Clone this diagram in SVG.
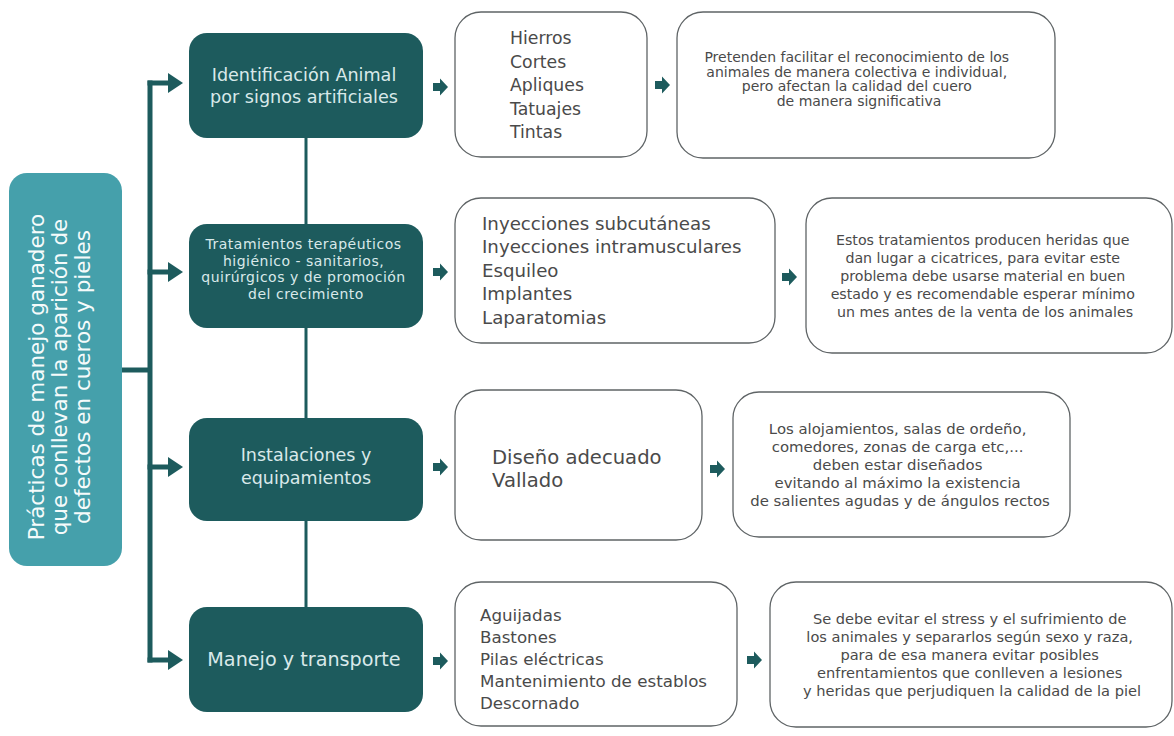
<svg xmlns="http://www.w3.org/2000/svg" width="1174" height="736" viewBox="0 0 1174 736">
  <defs>
    <style>
      .root { fill: #45a0ab; }
      .cat { fill: #1d5b5d; }
      .item { fill: #ffffff; stroke: #5f6466; stroke-width: 1.3; }
      .t { font-family: "DejaVu Sans", "Liberation Sans", sans-serif; }
      .tRoot { fill: #f5fbfb; font-size: 21.5px; text-anchor: middle; }
      .tCat { fill: #d9e9ea; text-anchor: middle; }
      .tList { fill: #4a4a4a; }
      .tNote { fill: #4a4a4a; text-anchor: middle; }
      .wire { stroke: #1d5b5d; fill: none; }
      .tip { fill: #1d5b5d; }
    </style>
    <!-- small block arrow, tip at the origin pointing right -->
    <path id="blk" class="tip" d="M-15,-4 H-8 V-8.5 L0,0 L-8,8.5 V4 H-15 Z"/>
    <!-- larger head for the trunk branches -->
    <path id="head" class="tip" d="M-15,-10 L0,0 L-15,10 Z"/>
  </defs>

  <rect width="1174" height="736" fill="#ffffff"/>

  <!-- connectors -->
  <g id="connectors">
    <line class="wire" x1="120" y1="370" x2="152" y2="370" stroke-width="5"/>
    <line class="wire" x1="150" y1="80.5" x2="150" y2="662.5" stroke-width="5"/>
    <line class="wire" x1="147.5" y1="83" x2="170" y2="83" stroke-width="5"/>
    <line class="wire" x1="147.5" y1="272" x2="170" y2="272" stroke-width="5"/>
    <line class="wire" x1="147.5" y1="467" x2="170" y2="467" stroke-width="5"/>
    <line class="wire" x1="147.5" y1="660" x2="170" y2="660" stroke-width="5"/>
    <use href="#head" x="183" y="83"/>
    <use href="#head" x="183" y="272"/>
    <use href="#head" x="183" y="467"/>
    <use href="#head" x="183" y="660"/>
    <line class="wire" x1="306" y1="136" x2="306" y2="226" stroke-width="3"/>
    <line class="wire" x1="306" y1="326" x2="306" y2="420" stroke-width="3"/>
    <line class="wire" x1="306" y1="518" x2="306" y2="609" stroke-width="3"/>
    <use href="#blk" x="448" y="87"/>
    <use href="#blk" x="670" y="85"/>
    <use href="#blk" x="448" y="272"/>
    <use href="#blk" x="797" y="277"/>
    <use href="#blk" x="448" y="467"/>
    <use href="#blk" x="725" y="469"/>
    <use href="#blk" x="448" y="661"/>
    <use href="#blk" x="762" y="660"/>
  </g>

  <!-- root -->
  <g id="root">
    <rect class="root" x="9" y="173" width="113" height="393" rx="18"/>
    <text class="t tRoot" transform="translate(44,377) rotate(-90)">Prácticas de manejo ganadero</text>
    <text class="t tRoot" transform="translate(67,377) rotate(-90)">que conllevan la aparición de</text>
    <text class="t tRoot" transform="translate(90,377) rotate(-90)">defectos en cueros y pieles</text>
  </g>

  <!-- row 1 -->
  <g id="cat-identificacion">
    <rect class="cat" x="189" y="33" width="234" height="105" rx="18"/>
    <text class="t tCat" font-size="17.6" x="304" y="81">Identificación Animal</text>
    <text class="t tCat" font-size="17.6" x="304" y="103">por signos artificiales</text>
  </g>
  <g id="list-identificacion">
    <rect class="item" x="455" y="12" width="192" height="145" rx="26"/>
    <text class="t tList" font-size="17.3">
      <tspan x="510" y="44">Hierros</tspan>
      <tspan x="510" y="67.5">Cortes</tspan>
      <tspan x="510" y="91">Apliques</tspan>
      <tspan x="510" y="114.5">Tatuajes</tspan>
      <tspan x="510" y="138">Tintas</tspan>
    </text>
  </g>
  <g id="note-identificacion">
    <rect class="item" x="677" y="12" width="378" height="146" rx="26"/>
    <text class="t tNote" font-size="14">
      <tspan x="859" y="62">Pretenden facilitar el reconocimiento de los</tspan>
      <tspan x="859" y="76.7">animales de manera colectiva e individual,</tspan>
      <tspan x="859" y="91.4">pero afectan la calidad del cuero</tspan>
      <tspan x="859" y="106.1">de manera significativa</tspan>
    </text>
  </g>

  <!-- row 2 -->
  <g id="cat-tratamientos">
    <rect class="cat" x="189" y="224" width="234" height="104" rx="18"/>
    <text class="t tCat" font-size="14" letter-spacing="0.5">
      <tspan x="306" y="249">Tratamientos terapéuticos</tspan>
      <tspan x="306" y="265.5">higiénico - sanitarios,</tspan>
      <tspan x="306" y="282">quirúrgicos y de promoción</tspan>
      <tspan x="306" y="298.5">del crecimiento</tspan>
    </text>
  </g>
  <g id="list-tratamientos">
    <rect class="item" x="455" y="198" width="320" height="145" rx="26"/>
    <text class="t tList" font-size="18.2">
      <tspan x="482" y="229.5">Inyecciones subcutáneas</tspan>
      <tspan x="482" y="253">Inyecciones intramusculares</tspan>
      <tspan x="482" y="276.5">Esquileo</tspan>
      <tspan x="482" y="300">Implantes</tspan>
      <tspan x="482" y="323.5">Laparatomias</tspan>
    </text>
  </g>
  <g id="note-tratamientos">
    <rect class="item" x="806" y="198" width="366" height="155" rx="26"/>
    <text class="t tNote" font-size="14.2">
      <tspan x="985" y="245">Estos tratamientos producen heridas que</tspan>
      <tspan x="985" y="263">dan lugar a cicatrices, para evitar este</tspan>
      <tspan x="985" y="281">problema debe usarse material en buen</tspan>
      <tspan x="985" y="299">estado y es recomendable esperar  mínimo</tspan>
      <tspan x="985" y="317">un mes antes de la venta de los animales</tspan>
    </text>
  </g>

  <!-- row 3 -->
  <g id="cat-instalaciones">
    <rect class="cat" x="189" y="418" width="234" height="103" rx="18"/>
    <text class="t tCat" font-size="17.5" x="306" y="461">Instalaciones y</text>
    <text class="t tCat" font-size="17.5" x="306" y="484">equipamientos</text>
  </g>
  <g id="list-instalaciones">
    <rect class="item" x="455" y="390" width="247" height="150" rx="26"/>
    <text class="t tList" font-size="19.6">
      <tspan x="492" y="463.5">Diseño adecuado</tspan>
      <tspan x="492" y="486.5">Vallado</tspan>
    </text>
  </g>
  <g id="note-instalaciones">
    <rect class="item" x="733" y="392" width="337" height="145" rx="26"/>
    <text class="t tNote" font-size="14.9">
      <tspan x="900" y="434">Los alojamientos, salas de ordeño,</tspan>
      <tspan x="900" y="452">comedores, zonas de carga etc,...</tspan>
      <tspan x="900" y="470">deben estar diseñados</tspan>
      <tspan x="900" y="488">evitando al máximo la existencia</tspan>
      <tspan x="900" y="506">de salientes agudas y de ángulos rectos</tspan>
    </text>
  </g>

  <!-- row 4 -->
  <g id="cat-manejo">
    <rect class="cat" x="189" y="607" width="234" height="105" rx="18"/>
    <text class="t tCat" font-size="19.2" x="304" y="666">Manejo y transporte</text>
  </g>
  <g id="list-manejo">
    <rect class="item" x="455" y="582" width="282" height="144" rx="26"/>
    <text class="t tList" font-size="16.7">
      <tspan x="480" y="620.5">Aguijadas</tspan>
      <tspan x="480" y="642.5">Bastones</tspan>
      <tspan x="480" y="664.5">Pilas eléctricas</tspan>
      <tspan x="480" y="686.5">Mantenimiento de establos</tspan>
      <tspan x="480" y="708.5">Descornado</tspan>
    </text>
  </g>
  <g id="note-manejo">
    <rect class="item" x="770" y="582" width="402" height="145" rx="26"/>
    <text class="t tNote" font-size="14.6">
      <tspan x="972" y="624">Se debe evitar el stress y el sufrimiento de</tspan>
      <tspan x="972" y="642">los animales y separarlos según sexo y raza,</tspan>
      <tspan x="972" y="660">para de esa manera evitar posibles</tspan>
      <tspan x="972" y="678">enfrentamientos que conlleven a lesiones</tspan>
      <tspan x="972" y="696">y heridas que perjudiquen la calidad de la piel</tspan>
    </text>
  </g>
</svg>
